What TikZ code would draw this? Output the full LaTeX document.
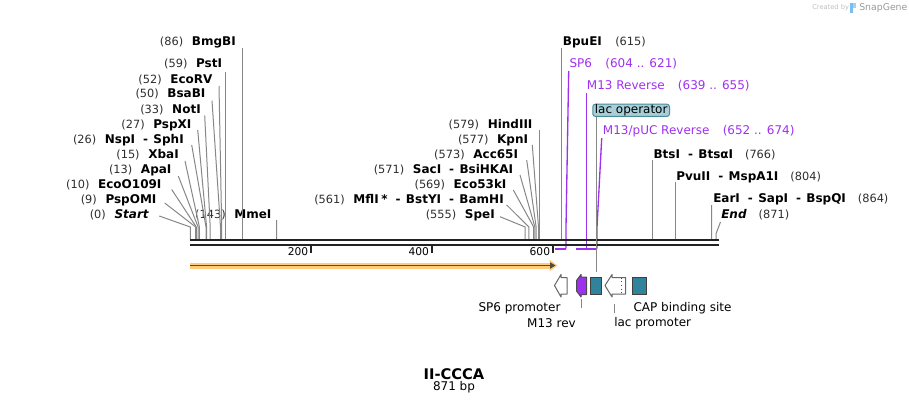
\documentclass[tikz,border=0pt]{standalone}
\usepackage{fontspec}
\setmainfont{DejaVu Sans}[ItalicFont={DejaVu Sans Oblique},BoldFont={DejaVu Sans Bold},BoldItalicFont={DejaVu Sans Bold Oblique}]
\usepackage{tikz}
\usetikzlibrary{calc}
\usetikzlibrary{arrows.meta}
\definecolor{leadgray}{RGB}{135,135,135}
\definecolor{numgray}{RGB}{45,45,45}
\definecolor{bbgray}{RGB}{34,34,34}
\definecolor{primer}{RGB}{158,48,240}
\definecolor{opteal}{RGB}{49,130,155}
\definecolor{opfill}{RGB}{168,207,216}
\definecolor{opedge}{RGB}{70,140,155}
\definecolor{orfhalo}{RGB}{253,205,125}
\definecolor{orfcore}{RGB}{85,75,60}
\definecolor{sgblue}{RGB}{120,190,240}
\tikzstyle{sitelabel} = [inner sep=0pt, text height=7pt, text depth=2.2pt, font=\fontsize{9}{10}\selectfont]
\tikzstyle{primerlabel} = [sitelabel, text=primer]
\tikzstyle{featlabel} = [inner sep=0pt, font=\fontsize{9}{10}\selectfont]
\tikzstyle{leader} = [draw=leadgray, line width=0.75pt]
\tikzstyle{primerline} = [draw=primer, line width=1pt]
\tikzstyle{primerbar} = [draw=primer, line width=1.5pt]
\tikzstyle{backbone} = [draw=bbgray, line width=1.65pt]
\tikzstyle{tick} = [draw=bbgray, line width=1.5pt]
\tikzstyle{feat} = [draw=black!60, line width=0.75pt, line join=round]
\tikzstyle{tealbox} = [draw=black!75, fill=opteal, line width=0.75pt, inner sep=0pt, minimum height=12.75pt]
\newcommand{\bpnum}[1]{{\fontsize{8.5}{10}\selectfont\color{numgray}(#1)}}
\newcommand{\enz}[1]{\textbf{#1}}
\newcommand{\orsep}{\hspace{6pt}-\hspace{4pt}}

\begin{document}
\begin{tikzpicture}[x=0.75pt, y=-0.75pt]
  \useasboundingbox (0,0) rectangle (909,405);

  % sites on the backbone
  \coordinate (s0) at (190.3,239);
  \coordinate (s9) at (195.7,239);
  \coordinate (s10) at (196.3,239);
  \coordinate (s13) at (198.1,239);
  \coordinate (s15) at (199.4,239);
  \coordinate (s26) at (206,239);
  \coordinate (s27) at (206.6,239);
  \coordinate (s33) at (210.2,239);
  \coordinate (s50) at (220.5,239);
  \coordinate (s52) at (221.7,239);
  \coordinate (s59) at (225.9,239);
  \coordinate (s86) at (242.2,239);
  \coordinate (s143) at (276.6,239);
  \coordinate (s555) at (525.2,239);
  \coordinate (s561) at (528.9,239);
  \coordinate (s569) at (533.7,239);
  \coordinate (s571) at (534.9,239);
  \coordinate (s573) at (536.1,239);
  \coordinate (s577) at (538.5,239);
  \coordinate (s579) at (539.7,239);
  \coordinate (s615) at (561.5,239);
  \coordinate (s766) at (652.6,239);
  \coordinate (s804) at (675.5,239);
  \coordinate (s864) at (711.7,239);
  \coordinate (s871) at (716,239);

  % enzyme labels, left cluster
  \node[sitelabel, anchor=east] (l0) at (149.3,215) {\bpnum{0}\hspace{6.5pt}\enz{\itshape Start}};
  \node[sitelabel, anchor=east] (l9) at (156.7,200) {\bpnum{9}\hspace{6.5pt}\enz{PspOMI}};
  \node[sitelabel, anchor=east] (l10) at (161.7,185) {\bpnum{10}\hspace{6.5pt}\enz{EcoO109I}};
  \node[sitelabel, anchor=east] (l13) at (171.7,170) {\bpnum{13}\hspace{6.5pt}\enz{ApaI}};
  \node[sitelabel, anchor=east] (l15) at (179,155) {\bpnum{15}\hspace{6.5pt}\enz{XbaI}};
  \node[sitelabel, anchor=east] (l26) at (184,140) {\bpnum{26}\hspace{6.5pt}\enz{NspI\orsep SphI}};
  \node[sitelabel, anchor=east] (l27) at (191.7,125) {\bpnum{27}\hspace{6.5pt}\enz{PspXI}};
  \node[sitelabel, anchor=east] (l33) at (201,110) {\bpnum{33}\hspace{6.5pt}\enz{NotI}};
  \node[sitelabel, anchor=east] (l50) at (205.7,94.3) {\bpnum{50}\hspace{6.5pt}\enz{BsaBI}};
  \node[sitelabel, anchor=east] (l52) at (212.7,80) {\bpnum{52}\hspace{6.5pt}\enz{EcoRV}};
  \node[sitelabel, anchor=east] (l59) at (222.3,64.3) {\bpnum{59}\hspace{6.5pt}\enz{PstI}};
  \node[sitelabel, anchor=east] (l86) at (236,42.7) {\bpnum{86}\hspace{6.5pt}\enz{BmgBI}};
  \node[sitelabel, anchor=east] (l143) at (271.7,215) {\bpnum{143}\hspace{6.5pt}\enz{MmeI}};

  % enzyme labels, middle cluster
  \node[sitelabel, anchor=east] (l555) at (495,215) {\bpnum{555}\hspace{6.5pt}\enz{SpeI}};
  \node[sitelabel, anchor=east] (l561) at (504,200) {\bpnum{561}\hspace{6.5pt}\enz{MflI\hspace{2pt}*\orsep BstYI\orsep BamHI}};
  \node[sitelabel, anchor=east] (l569) at (506.7,185) {\bpnum{569}\hspace{6.5pt}\enz{Eco53kI}};
  \node[sitelabel, anchor=east] (l571) at (513.3,170) {\bpnum{571}\hspace{6.5pt}\enz{SacI\orsep BsiHKAI}};
  \node[sitelabel, anchor=east] (l573) at (518.3,155) {\bpnum{573}\hspace{6.5pt}\enz{Acc65I}};
  \node[sitelabel, anchor=east] (l577) at (528.3,140) {\bpnum{577}\hspace{6.5pt}\enz{KpnI}};
  \node[sitelabel, anchor=east] (l579) at (532.7,125) {\bpnum{579}\hspace{6.5pt}\enz{HindIII}};

  % enzyme labels, right side
  \node[sitelabel, anchor=west] (l615) at (562.7,42.7) {\enz{BpuEI}\hspace{10pt}\bpnum{615}};
  \node[sitelabel, anchor=west] (l766) at (653.3,155) {\enz{BtsI\orsep BtsαI}\hspace{9pt}\bpnum{766}};
  \node[sitelabel, anchor=west] (l804) at (676,177) {\enz{PvuII\orsep MspA1I}\hspace{9pt}\bpnum{804}};
  \node[sitelabel, anchor=west] (l864) at (713,199) {\enz{EarI\orsep SapI\orsep BspQI}\hspace{9pt}\bpnum{864}};
  \node[sitelabel, anchor=west] (l871) at (721,215) {\enz{\itshape End}\hspace{9pt}\bpnum{871}};

  % leaders
  \draw[leader] (l0.east) ++(10,1) -- ([yshift=9pt]s0) -- (s0);
  \draw[leader] (l9.east) ++(8,3) -- ([yshift=9pt]s9) -- (s9);
  \draw[leader] (l10.east) ++(10,4.5) -- ([yshift=9pt]s10) -- (s10);
  \draw[leader] (l13.east) ++(6.6,6) -- ([yshift=9pt]s13) -- (s13);
  \draw[leader] (l15.east) ++(6,6) -- ([yshift=9pt]s15) -- (s15);
  \draw[leader] (l26.east) ++(7.7,5) -- ([yshift=9pt]s26) -- (s26);
  \draw[leader] (l27.east) ++(6,5) -- ([yshift=9pt]s27) -- (s27);
  \draw[leader] (l33.east) ++(3.7,5.5) -- ([yshift=9pt]s33) -- (s33);
  \draw[leader] (l50.east) ++(6.3,6.4) -- ([yshift=9pt]s50) -- (s50);
  \draw[leader] (l52.east) ++(6.3,6) -- ([yshift=9pt]s52) -- (s52);
  \draw[leader] (l59.east) ++(3.6,7.7) -- (s59);
  \draw[leader] (l86.east) ++(6.2,5.3) -- (s86);
  \draw[leader] (l143.east) ++(4.9,5) -- (s143);
  \draw[leader] (l555.east) ++(5,1.7) -- ([yshift=9pt]s555) -- (s555);
  \draw[leader] (l561.east) ++(2.7,5) -- ([yshift=9pt]s561) -- (s561);
  \draw[leader] (l569.east) ++(6.6,5) -- ([yshift=9pt]s569) -- (s569);
  \draw[leader] (l571.east) ++(6.7,5) -- ([yshift=9pt]s571) -- (s571);
  \draw[leader] (l573.east) ++(8.4,5) -- ([yshift=9pt]s573) -- (s573);
  \draw[leader] (l577.east) ++(4,5) -- ([yshift=9pt]s577) -- (s577);
  \draw[leader] (l579.east) ++(7,5) -- (s579);
  \draw[leader] (l615.west) ++(-1.2,5.5) -- (s615);
  \draw[leader] (l766.west) ++(-0.7,5) -- (s766);
  \draw[leader] (l804.west) ++(-0.5,5) -- (s804);
  \draw[leader] (l864.west) ++(-1.3,6) -- (s864);
  \draw[leader] (l871.west) ++(-0.5,7) -- ([yshift=4pt]s871) -- (s871);

  % primers
  \coordinate (pSP6a) at (555,248.5);
  \coordinate (pSP6b) at (566,248.5);
  \coordinate (pM13a) at (576,248.5);
  \coordinate (pM13b) at (586.7,248.5);
  \coordinate (pPUCa) at (584,248.5);
  \coordinate (pPUCb) at (597,248.5);
  \node[primerlabel, anchor=west] (lSP6) at (569.3,64.3) {SP6\hspace{10pt}(604 .. 621)};
  \node[primerlabel, anchor=west] (lM13) at (586.7,86.7) {M13 Reverse\hspace{10pt}(639 .. 655)};
  \node[primerlabel, anchor=west] (lPUC) at (602.7,131.7) {M13/pUC Reverse\hspace{10pt}(652 .. 674)};
  \draw[primerline] (lSP6.west) ++(-0.6,6.5) -- ([yshift=16pt]pSP6b) -- (pSP6b);
  \draw[primerline] (lM13.west) ++(0,6.5) -- (pM13b);
  \draw[primerline] (lPUC.west) ++(-1,6.5) -- ([yshift=16pt]pPUCb) -- (pPUCb);
  \draw[primerbar] (pSP6a) -- (pSP6b);
  \draw[primerbar] (pM13a) -- (pM13b);
  \draw[primerbar] (pPUCa) -- (pPUCb);

  % backbone and ruler
  \draw[backbone] (190,240.3) -- (718.5,240.3);
  \draw[backbone] (190,244.6) -- (718.5,244.6);
  \draw[tick] (311,246) -- (311,252.5);
  \draw[tick] (431.8,246) -- (431.8,252.5);
  \draw[tick] (552.8,246) -- (552.8,252.5);
  \node[featlabel, anchor=east, font=\fontsize{8}{9}\selectfont] (t200) at (308.5,252) {200};
  \node[featlabel, anchor=east, font=\fontsize{8}{9}\selectfont] (t400) at (429.3,252) {400};
  \node[featlabel, anchor=east, font=\fontsize{8}{9}\selectfont] (t600) at (550.3,252) {600};

  % ORF
  \coordinate (orfa) at (190,265.5);
  \coordinate (orfb) at (557.5,265.5);
  \draw[orfhalo, line width=4.5pt, -{Triangle[length=6pt,width=8.5pt]}] (orfa) -- (orfb);
  \draw[orfcore, line width=1.3pt, -{Triangle[length=4pt,width=4.5pt]}] (orfa) -- ([xshift=-1.5pt]orfb);

  % features
  \draw[feat, fill=white] (554.5,285.5) -- (561,274.5) -- (561,277.5) -- (567,277.5)
    -- (567,294) -- (561,294) -- (561,297) -- cycle;
  \draw[feat, draw=black!70, fill=primer] (581,274.5) -- (576.5,280.5) -- (576.5,291) -- (581,297)
    -- (581,294.5) -- (586.5,294.5) -- (586.5,277) -- (581,277) -- cycle;
  \node[tealbox, minimum width=8.25pt] (fLacOp) at (596.2,285.8) {};
  \draw[feat, fill=white] (605,285.5) -- (612,274.5) -- (612,277.5) -- (625.7,277.5)
    -- (625.7,294) -- (612,294) -- (612,297) -- cycle;
  \draw[black!70, line width=0.75pt, dotted] (621.7,277.5) -- (621.7,294);
  \node[tealbox, minimum width=10.8pt] (fCAP) at (639.5,285.8) {};

  % lac operator box on top
  \node[sitelabel, anchor=west, draw=opedge, fill=opfill, rounded corners=2pt,
        inner xsep=1.5pt, line width=0.75pt] (lLacOp) at (592.3,110.3) {lac operator};
  \draw[leader] (fLacOp.north) ++(0,-5) -- (fLacOp.north |- lLacOp.south);

  % feature labels
  \coordinate (fM13) at (581,299);
  \coordinate (cM13) at (581,308);
  \coordinate (fLacP) at (614.3,304);
  \coordinate (cLacP) at (614.3,313);
  \draw[leader] (fM13) -- (cM13);
  \draw[leader] (fLacP) -- (cLacP);
  \node[featlabel] (nSP6) at (519.5,308) {SP6 promoter};
  \node[featlabel, anchor=east] (nM13) at (576,323.3) {M13 rev};
  \node[featlabel, anchor=west] (nLacP) at (614,323.3) {lac promoter};
  \node[featlabel, anchor=west] (nCAP) at (633.3,308) {CAP binding site};

  % title
  \node[featlabel, font=\fontsize{11}{12}\selectfont\bfseries] (title) at (454,374.3) {II-CCCA};
  \node[featlabel] (bplen) at (454,387.5) {871 bp};

  % watermark
  \node[featlabel, anchor=west, text=black!25, font=\fontsize{5}{6}\selectfont] (cby) at (812,7.5) {Created by};
  \fill[sgblue] (850,3) rectangle (853,13);
  \fill[sgblue!70] (853,3) rectangle (856,8);
  \node[featlabel, anchor=west, text=black!40, font=\fontsize{7}{8}\selectfont] (sg) at (859,7.5) {SnapGene};
\end{tikzpicture}
\end{document}
